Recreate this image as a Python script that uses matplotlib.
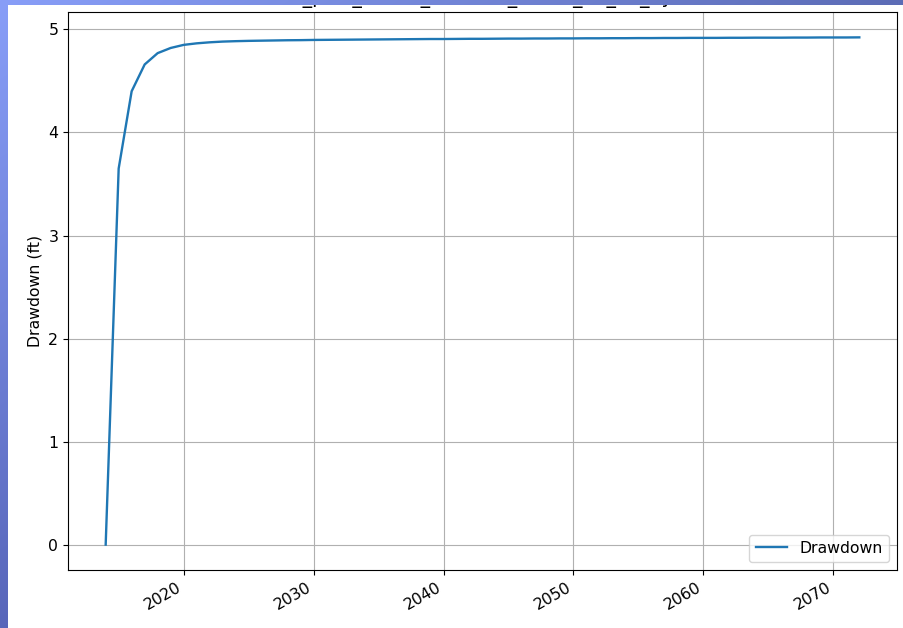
import numpy as np
import pandas as pd
import matplotlib
matplotlib.use('Agg')
import matplotlib.pyplot as plt
import matplotlib.dates as mdates

# yearly drawdown series (ft)
years = list(range(2014, 2073))
drawdown = [0.0, 3.65, 4.40, 4.66, 4.77, 4.82, 4.85, 4.865, 4.875, 4.882,
            4.886, 4.889, 4.891, 4.893, 4.895, 4.896, 4.898, 4.899, 4.900, 4.901,
            4.902, 4.903, 4.904, 4.905, 4.906, 4.907, 4.907, 4.908, 4.909, 4.909,
            4.910, 4.911, 4.911, 4.912, 4.912, 4.913, 4.913, 4.914, 4.914, 4.915,
            4.915, 4.916, 4.916, 4.917, 4.917, 4.918, 4.918, 4.918, 4.919, 4.919,
            4.920, 4.920, 4.920, 4.921, 4.921, 4.922, 4.922, 4.922, 4.923]
title = "a_pool_model_demand_CW12_10_25_2y"

df = pd.DataFrame({'date': pd.to_datetime([f'{y}-01-01' for y in years]),
                   'Drawdown': drawdown})

plt.rcParams['font.size'] = 11.3

W, H = 904, 628
fig = plt.figure(figsize=(W / 100, H / 100), dpi=100)
ax = fig.add_axes([68 / W, 1 - 570 / H, 829 / W, 558 / H])
ax.plot(df['date'], df['Drawdown'], label='Drawdown', color='#1f77b4', lw=1.7)
ax.set_ylabel('Drawdown (ft)')
ax.xaxis.set_major_locator(mdates.YearLocator(10))
ax.xaxis.set_major_formatter(mdates.DateFormatter('%Y'))
for lbl in ax.get_xticklabels():
    lbl.set_rotation(30)
    lbl.set_ha('right')
ax.grid(True)
ax.legend(loc='lower right')

# title sits mostly under the window border
fig.text((68 + 829 / 2) / W, 1 - 2.5 / H, title, ha='center', va='baseline',
         fontsize=13.6)

# window border gradient on the left and top edges
band = np.zeros((H, W, 4))
yy, xx = np.mgrid[0:H, 0:W]
fy = yy / (H - 1)
fx = xx / (W - 1)
tl = np.array([136, 158, 248]) / 255
bl = np.array([88, 102, 186]) / 255
tr = np.array([92, 108, 182]) / 255
col = tl[None, None, :] + fy[..., None] * (bl - tl) + fx[..., None] * (tr - tl)
mask = (xx < 8) | (yy < 5)
band[..., :3] = np.clip(col, 0, 1)
band[..., 3] = mask.astype(float)
over = fig.add_axes([0, 0, 1, 1], zorder=10)
over.imshow(band, extent=[0, W, H, 0], aspect='auto', interpolation='nearest')
over.set_xlim(0, W)
over.set_ylim(H, 0)
over.axis('off')
over.patch.set_alpha(0)

fig.savefig('out.png', dpi=100)
plt.close('all')
